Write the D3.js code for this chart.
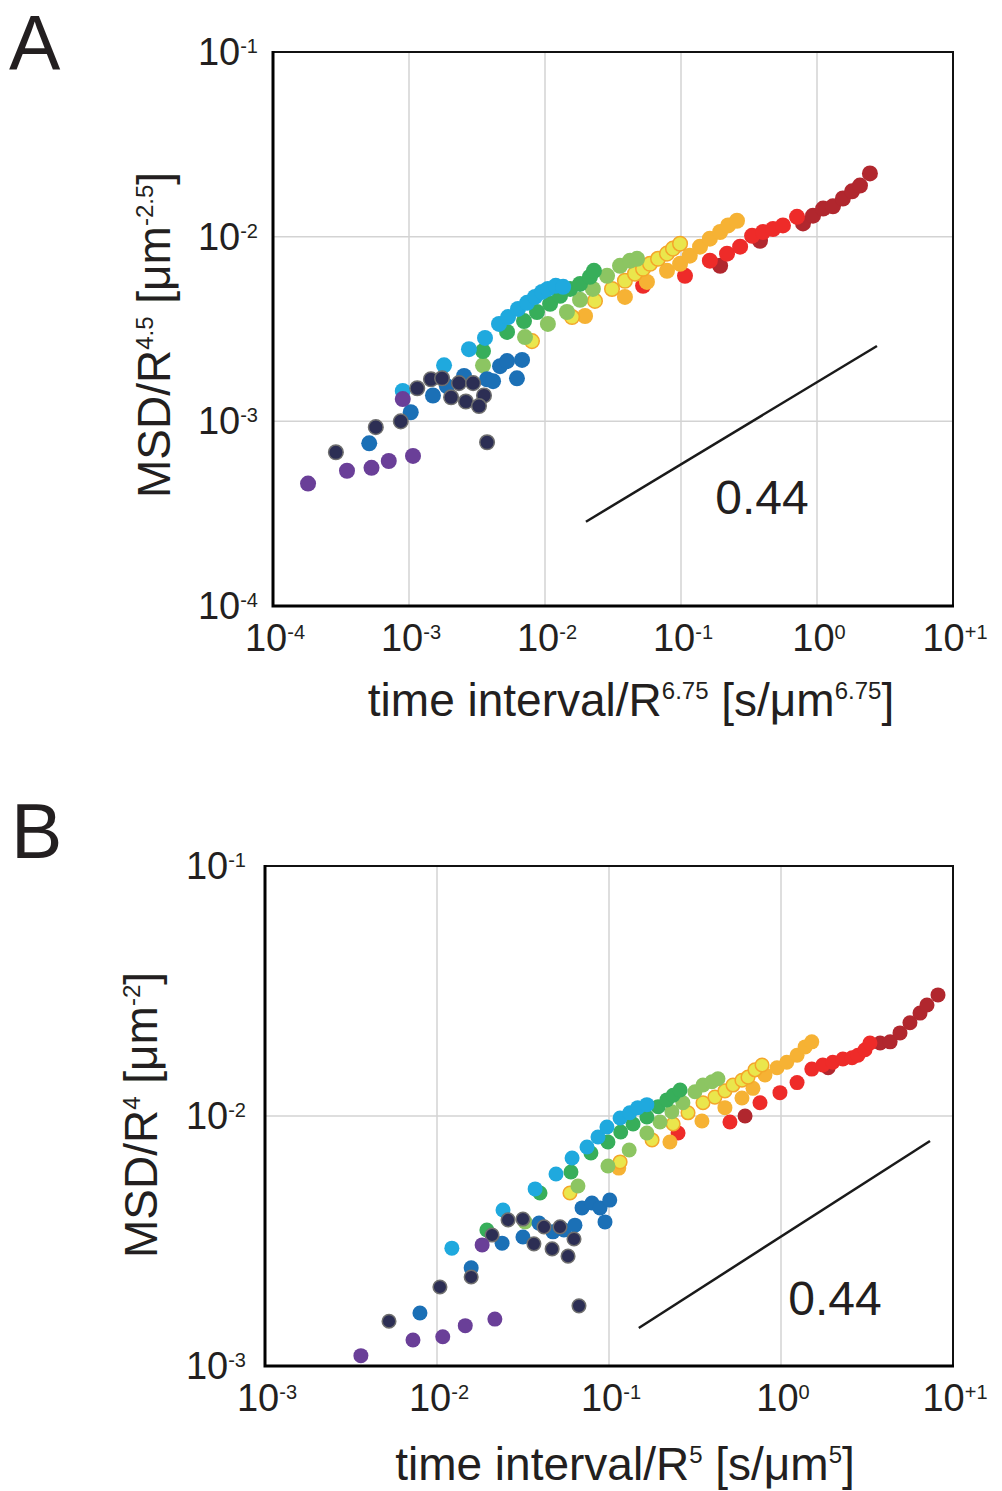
<!DOCTYPE html>
<html>
<head>
<meta charset="utf-8">
<script src="https://cdn.jsdelivr.net/npm/d3@7"></script>
<style>
  html, body { margin: 0; padding: 0; background: #fff; }
  svg { display: block; font-family: "Liberation Sans", Arial, sans-serif; }
</style>
</head>
<body>
<div id="chart"></div>
<script>
// =======================
// Data
// =======================
// Series order, from smallest to largest; drawn in reverse so purple sits on top
const seriesKeys = ["purple", "navy", "blue", "cyan", "green", "lgreen", "yellow", "orange", "red", "dred"];

// ---- Panel A: x = time interval/R^6.75, y = MSD/R^4.5
const purpleA = [[1.81e-4, 4.6e-4], [3.5e-4, 5.4e-4], [5.3e-4, 5.6e-4], [7.1e-4, 6.1e-4], [1.07e-3, 6.5e-4], [9.0e-4, 1.32e-3]];
const navyA = [[2.9e-4, 6.8e-4], [5.7e-4, 9.3e-4], [8.7e-4, 1.0e-3], [1.15e-3, 1.51e-3], [1.45e-3, 1.69e-3], [1.75e-3, 1.71e-3],
  [2.33e-3, 1.61e-3], [2.96e-3, 1.61e-3], [3.56e-3, 1.38e-3], [2.04e-3, 1.35e-3], [2.62e-3, 1.28e-3], [3.27e-3, 1.21e-3], [3.75e-3, 7.7e-4]];
const blueA = [[5.1e-4, 7.6e-4], [1.03e-3, 1.12e-3], [1.5e-3, 1.38e-3], [1.9e-3, 1.55e-3], [2.54e-3, 1.76e-3], [3.75e-3, 1.69e-3],
  [4.15e-3, 1.65e-3], [4.67e-3, 1.99e-3], [5.26e-3, 2.12e-3], [6.78e-3, 2.15e-3], [6.22e-3, 1.71e-3]];
const cyanA = [[9.0e-4, 1.46e-3], [1.81e-3, 2.01e-3], [2.76e-3, 2.46e-3], [3.62e-3, 2.83e-3], [4.59e-3, 3.37e-3], [5.35e-3, 3.67e-3],
  [6.33e-3, 4.06e-3], [7.38e-3, 4.38e-3], [8.44e-3, 4.72e-3], [9.5e-3, 5.02e-3], [1.05e-2, 5.21e-3], [1.2e-2, 5.42e-3], [1.36e-2, 5.35e-3]];
const greenA = [[3.5e-3, 2.4e-3], [5.26e-3, 3.05e-3], [7.01e-3, 3.49e-3], [8.73e-3, 3.91e-3], [1.09e-2, 4.33e-3], [1.29e-2, 4.78e-3],
  [1.53e-2, 5.21e-3], [1.81e-2, 5.55e-3], [2.14e-2, 6.06e-3], [2.29e-2, 6.53e-3]];
const lgreenA = [[3.5e-3, 2.01e-3], [7.13e-3, 2.86e-3], [1.05e-2, 3.37e-3], [1.45e-2, 3.91e-3], [1.81e-2, 4.55e-3], [2.25e-2, 5.21e-3],
  [2.86e-2, 6.14e-3], [3.56e-2, 6.95e-3], [4.22e-2, 7.41e-3], [4.75e-2, 7.59e-3]];
const yellowA = [[8.02e-3, 2.72e-3], [1.58e-2, 3.67e-3], [2.33e-2, 4.49e-3], [3.11e-2, 5.21e-3], [3.87e-2, 5.77e-3], [4.59e-2, 6.3e-3],
  [5.26e-2, 6.7e-3], [5.92e-2, 7.13e-3], [6.78e-2, 7.59e-3], [7.89e-2, 8.09e-3], [8.73e-2, 8.61e-3], [9.84e-2, 9.16e-3]];
const orangeA = [[1.97e-2, 3.72e-3], [3.87e-2, 4.72e-3], [5.62e-2, 5.69e-3], [7.89e-2, 6.53e-3], [9.84e-2, 7.13e-3], [0.116, 7.89e-3],
  [0.138, 8.83e-3], [0.163, 9.75e-3], [0.194, 1.06e-2], [0.222, 1.15e-2], [0.258, 1.22e-2]];
const redA = [[5.26e-2, 5.42e-3], [0.107, 6.14e-3], [0.163, 7.41e-3], [0.218, 8.09e-3], [0.272, 8.83e-3], [0.333, 1.01e-2],
  [0.401, 1.06e-2], [0.475, 1.1e-2], [0.562, 1.15e-2], [0.713, 1.28e-2]];
const dredA = [[0.194, 6.95e-3], [0.381, 9.5e-3], [0.789, 1.18e-2], [0.935, 1.3e-2], [1.11, 1.42e-2], [1.31, 1.46e-2],
  [1.55, 1.61e-2], [1.81, 1.76e-2], [2.07, 1.89e-2], [2.45, 2.2e-2]];
const slopeLineA = [[0.020, 2.86e-4], [2.76, 2.56e-3]];
const slopeTextA = [0.394, 3.13e-4];

// ---- Panel B: x = time interval/R^5, y = MSD/R^4
const purpleB = [[3.61e-3, 1.1e-3], [7.25e-3, 1.27e-3], [1.08e-2, 1.31e-3], [1.46e-2, 1.45e-3], [2.17e-2, 1.54e-3], [1.83e-2, 3.05e-3]];
const navyB = [[5.26e-3, 1.51e-3], [1.04e-2, 2.07e-3], [1.58e-2, 2.27e-3], [2.09e-2, 3.34e-3], [2.59e-2, 3.84e-3], [3.16e-2, 3.87e-3],
  [3.66e-2, 3.08e-3], [4.19e-2, 3.6e-3], [4.67e-2, 2.94e-3], [5.19e-2, 3.6e-3], [6.26e-2, 3.22e-3], [5.78e-2, 2.75e-3], [6.69e-2, 1.74e-3]];
const blueB = [[7.96e-3, 1.63e-3], [1.58e-2, 2.47e-3], [2.39e-2, 3.1e-3], [3.16e-2, 3.28e-3], [3.92e-2, 3.73e-3], [4.72e-2, 3.44e-3],
  [5.47e-2, 3.5e-3], [6.34e-2, 3.66e-3], [6.97e-2, 4.29e-3], [7.96e-2, 4.49e-3], [8.87e-2, 4.29e-3], [0.101, 4.61e-3], [9.48e-2, 3.77e-3]];
const cyanB = [[1.22e-2, 2.96e-3], [2.42e-2, 4.21e-3], [3.72e-2, 5.11e-3], [4.92e-2, 5.86e-3], [6.1e-2, 6.79e-3], [7.45e-2, 7.52e-3],
  [8.63e-2, 8.24e-3], [9.73e-2, 9.04e-3], [0.116, 9.82e-3], [0.132, 1.03e-2], [0.147, 1.08e-2], [0.166, 1.11e-2]];
const greenB = [[1.95e-2, 3.5e-3], [3.97e-2, 4.92e-3], [6.01e-2, 5.97e-3], [7.85e-2, 7.11e-3], [9.86e-2, 7.87e-3], [0.117, 8.63e-3],
  [0.138, 9.29e-3], [0.166, 9.91e-3], [0.193, 1.09e-2], [0.217, 1.16e-2], [0.236, 1.21e-2], [0.259, 1.27e-2]];
const lgreenB = [[3.25e-2, 3.77e-3], [6.6e-2, 5.25e-3], [9.86e-2, 6.31e-3], [0.131, 7.31e-3], [0.166, 8.55e-3], [0.198, 9.46e-3],
  [0.232, 1.04e-2], [0.269, 1.13e-2], [0.316, 1.25e-2], [0.352, 1.33e-2], [0.397, 1.37e-2], [0.43, 1.41e-2]];
const yellowB = [[5.93e-2, 4.92e-3], [0.116, 6.55e-3], [0.178, 8.02e-3], [0.236, 9.29e-3], [0.288, 1.03e-2], [0.352, 1.13e-2],
  [0.413, 1.19e-2], [0.472, 1.26e-2], [0.526, 1.33e-2], [0.593, 1.39e-2], [0.643, 1.43e-2], [0.706, 1.53e-2], [0.776, 1.6e-2]];
const orangeB = [[0.114, 6.19e-3], [0.226, 7.87e-3], [0.347, 9.55e-3], [0.472, 1.08e-2], [0.593, 1.18e-2], [0.687, 1.29e-2],
  [0.807, 1.46e-2], [0.948, 1.56e-2], [1.08, 1.64e-2], [1.24, 1.75e-2], [1.38, 1.89e-2], [1.51, 1.98e-2]];
const redB = [[0.252, 8.55e-3], [0.505, 9.46e-3], [0.755, 1.13e-2], [0.986, 1.24e-2], [1.24, 1.36e-2], [1.51, 1.54e-2],
  [1.75, 1.6e-2], [2.0, 1.64e-2], [2.29, 1.69e-2], [2.59, 1.71e-2], [2.8, 1.75e-2], [3.08, 1.84e-2], [3.29, 1.96e-2]];
const dredB = [[0.618, 1.0e-2], [1.88, 1.56e-2], [3.77, 1.96e-2], [4.31, 1.98e-2], [4.92, 2.15e-2], [5.62, 2.36e-2],
  [6.43, 2.58e-2], [7.06, 2.78e-2], [8.18, 3.05e-2]];
const slopeLineB = [[0.149, 1.42e-3], [7.35, 7.94e-3]];
const slopeTextB = [2.06, 1.6e-3];

// Tick labels (exponents of ten)
const xTickExpA = ["-4", "-3", "-2", "-1", "0", "+1"];
const yTickExpA = ["-4", "-3", "-2", "-1"];
const xTickExpB = ["-3", "-2", "-1", "0", "+1"];
const yTickExpB = ["-3", "-2", "-1"];

// =======================
// Styles
// =======================
const fillColor = {
  purple: "#6a3f98", navy: "#2c2e54", blue: "#1b70b6", cyan: "#1fa9de", green: "#37ae5a",
  lgreen: "#8cc562", yellow: "#eae64c", orange: "#f6b234", red: "#ee2b29", dred: "#b1272e"
};
const strokeColor = { navy: "#6f6f6f", yellow: "#f4a62a" };

const panels = [
  {
    letter: "A", letterX: 9, letterY: 70,
    left: 273, right: 953, top: 52, bottom: 606, r: 8,
    xDomain: [1e-4, 1e1], yDomain: [1e-4, 1e-1],
    xTicks: xTickExpA, yTicks: yTickExpA, yTickGap: 15,
    series: { purple: purpleA, navy: navyA, blue: blueA, cyan: cyanA, green: greenA,
              lgreen: lgreenA, yellow: yellowA, orange: orangeA, red: redA, dred: dredA },
    slopeLine: slopeLineA, slopeText: slopeTextA,
    xTitle: [["time interval/R", false], ["6.75", true], [" [s/\u03bcm", false], ["6.75", true], ["]", false]],
    xTitleX: 631, xTitleY: 716,
    yTitle: [["MSD/R", false], ["4.5", true], [" [\u03bcm", false], ["-2.5", true], ["]", false]],
    yTitleX: 170, yTitleY: 335
  },
  {
    letter: "B", letterX: 11, letterY: 858,
    left: 265, right: 953, top: 866, bottom: 1366, r: 7.5,
    xDomain: [1e-3, 1e1], yDomain: [1e-3, 1e-1],
    xTicks: xTickExpB, yTicks: yTickExpB, yTickGap: 19,
    series: { purple: purpleB, navy: navyB, blue: blueB, cyan: cyanB, green: greenB,
              lgreen: lgreenB, yellow: yellowB, orange: orangeB, red: redB, dred: dredB },
    slopeLine: slopeLineB, slopeText: slopeTextB,
    xTitle: [["time interval/R", false], ["5", true], [" [s/\u03bcm", false], ["5", true], ["]", false]],
    xTitleX: 625, xTitleY: 1480,
    yTitle: [["MSD/R", false], ["4", true], [" [\u03bcm", false], ["-2", true], ["]", false]],
    yTitleX: 157, yTitleY: 1115
  }
];

// =======================
// SVG
// =======================
const svg = d3.select("#chart")
  .append("svg")
  .attr("width", 1002)
  .attr("height", 1491);

// text with superscripts: parts = [[text, isSup], ...]
function richText(sel, parts, size, supSize, raise) {
  let up = false;
  parts.forEach(([t, sup]) => {
    const ts = sel.append("tspan").text(t);
    if (sup && !up) { ts.attr("dy", -raise).attr("font-size", supSize); up = true; }
    else if (sup) { ts.attr("font-size", supSize); }
    else if (up) { ts.attr("dy", raise).attr("font-size", size); up = false; }
    else { ts.attr("font-size", size); }
  });
}

panels.forEach(p => {
  const x = d3.scaleLog().domain(p.xDomain).range([p.left, p.right]);
  const y = d3.scaleLog().domain(p.yDomain).range([p.bottom, p.top]);
  const g = svg.append("g");

  const xVals = p.xTicks.map(e => Math.pow(10, +e));
  const yVals = p.yTicks.map(e => Math.pow(10, +e));

  // gridlines
  g.append("g").selectAll("line")
    .data(xVals.slice(1, -1))
    .enter().append("line")
    .attr("x1", d => x(d)).attr("x2", d => x(d))
    .attr("y1", p.top).attr("y2", p.bottom)
    .attr("stroke", "#d3d3d3").attr("stroke-width", 1.5);
  g.append("g").selectAll("line")
    .data(yVals.slice(1, -1))
    .enter().append("line")
    .attr("x1", p.left).attr("x2", p.right)
    .attr("y1", d => y(d)).attr("y2", d => y(d))
    .attr("stroke", "#d3d3d3").attr("stroke-width", 1.5);

  // frame
  g.append("rect")
    .attr("x", p.left).attr("y", p.top)
    .attr("width", p.right - p.left).attr("height", p.bottom - p.top)
    .attr("fill", "none").attr("stroke", "#111").attr("stroke-width", 2);
  g.append("path")
    .attr("d", `M${p.left},${p.top - 1}V${p.bottom}H${p.right + 1}`)
    .attr("fill", "none").attr("stroke", "#000").attr("stroke-width", 3);

  // points (largest series first so purple ends on top)
  seriesKeys.slice().reverse().forEach(key => {
    g.append("g").selectAll("circle")
      .data(p.series[key])
      .enter().append("circle")
      .attr("cx", d => x(d[0]))
      .attr("cy", d => y(d[1]))
      .attr("r", strokeColor[key] ? p.r - 0.7 : p.r)
      .attr("fill", fillColor[key])
      .attr("stroke", strokeColor[key] || "none")
      .attr("stroke-width", strokeColor[key] ? 1.5 : 0);
  });

  // slope guide
  g.append("line")
    .attr("x1", x(p.slopeLine[0][0])).attr("y1", y(p.slopeLine[0][1]))
    .attr("x2", x(p.slopeLine[1][0])).attr("y2", y(p.slopeLine[1][1]))
    .attr("stroke", "#1a1a1a").attr("stroke-width", 2.5);
  g.append("text")
    .attr("x", x(p.slopeText[0])).attr("y", y(p.slopeText[1]))
    .attr("text-anchor", "middle")
    .attr("font-size", 48).attr("fill", "#231f20")
    .text("0.44");

  // x tick labels
  p.xTicks.forEach((e, i) => {
    const t = g.append("text")
      .attr("x", x(xVals[i]) + 2).attr("y", p.bottom + 45)
      .attr("text-anchor", "middle").attr("fill", "#231f20");
    richText(t, [["10", false], [e, true]], 38, 20, 12);
  });

  // y tick labels
  p.yTicks.forEach((e, i) => {
    const t = g.append("text")
      .attr("x", p.left - p.yTickGap).attr("y", y(yVals[i]) + 13)
      .attr("text-anchor", "end").attr("fill", "#231f20");
    richText(t, [["10", false], [e, true]], 38, 20, 12);
  });

  // axis titles
  const xt = g.append("text")
    .attr("x", p.xTitleX).attr("y", p.xTitleY)
    .attr("text-anchor", "middle").attr("fill", "#231f20");
  richText(xt, p.xTitle, 46, 24, 17);

  const yt = g.append("text")
    .attr("transform", `translate(${p.yTitleX},${p.yTitleY}) rotate(-90)`)
    .attr("text-anchor", "middle").attr("fill", "#231f20");
  richText(yt, p.yTitle, 46, 24, 17);

  // panel letter
  svg.append("text")
    .attr("x", p.letterX).attr("y", p.letterY)
    .attr("font-size", 77).attr("fill", "#231f20")
    .text(p.letter);
});
</script>
</body>
</html>
